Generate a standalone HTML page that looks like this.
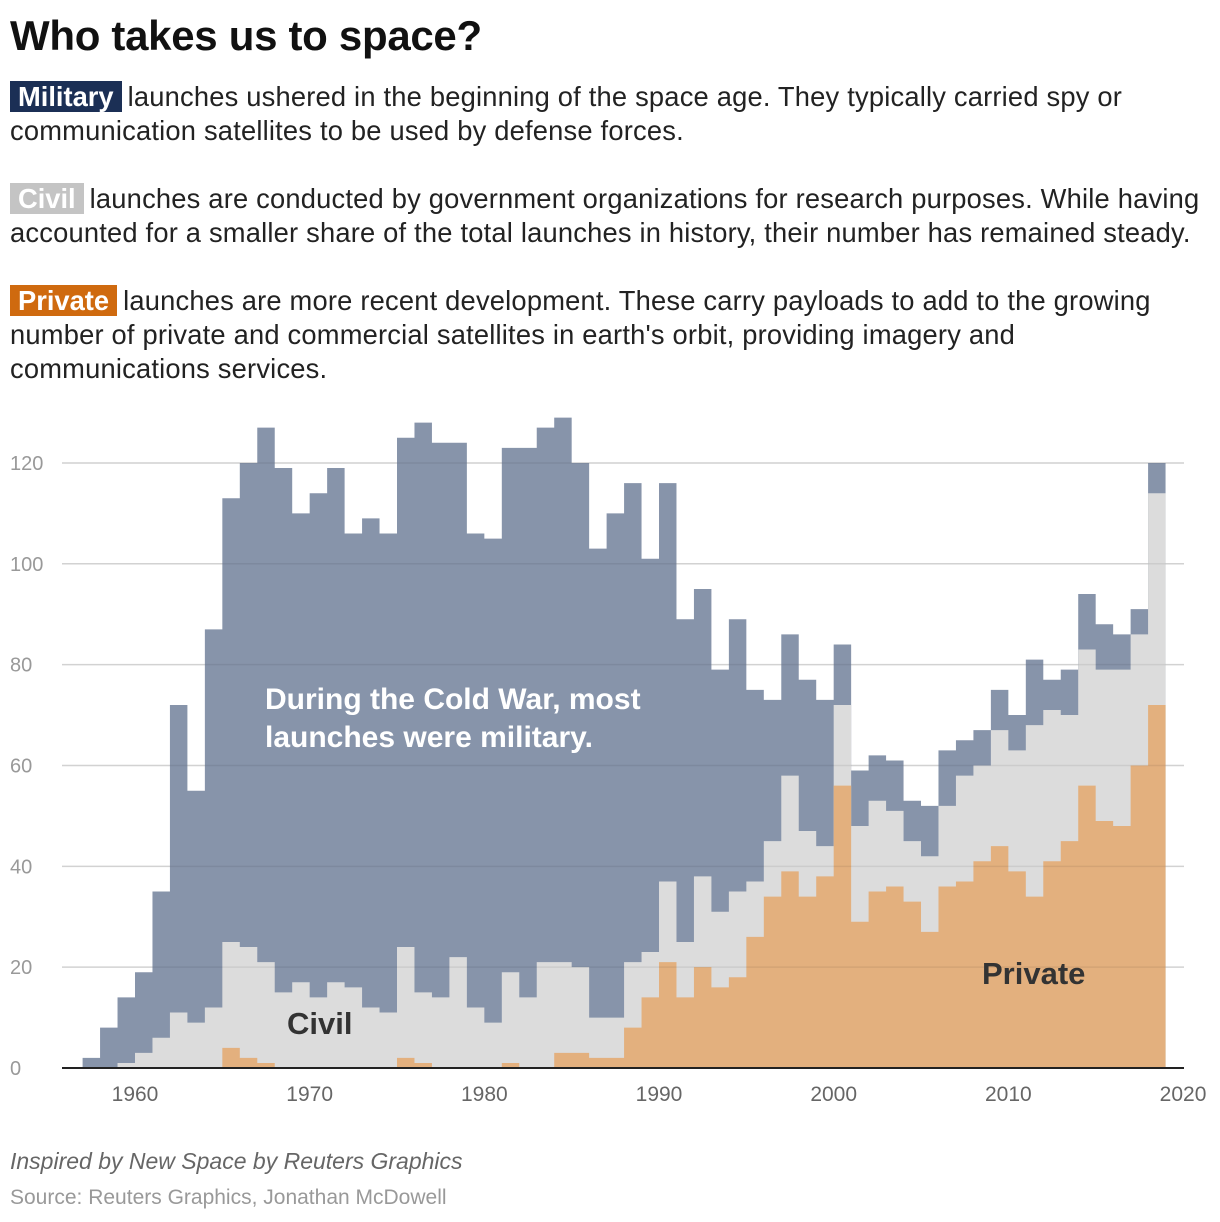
<!DOCTYPE html>
<html><head><meta charset="utf-8"><style>
body{margin:0;width:1220px;height:1222px;background:#fff;font-family:"Liberation Sans",sans-serif;position:relative;overflow:hidden}
h1{position:absolute;left:10px;top:12px;margin:0;font-size:42px;font-weight:bold;color:#111;letter-spacing:-0.3px}
.p{position:absolute;left:10px;font-size:27.3px;line-height:34px;color:#222;white-space:nowrap;letter-spacing:0.2px}
.b{color:#fff;font-weight:bold;padding:0 8px 0 8px;margin-right:6px;letter-spacing:0}
.f1{position:absolute;left:10px;top:1148px;font-size:23px;font-style:italic;color:#666}
.f2{position:absolute;left:10px;top:1186px;font-size:21px;color:#999}
svg{position:absolute;left:0;top:0}
</style></head><body>
<h1>Who takes us to space?</h1>
<div class="p" style="top:80px"><span class="b" style="background:#1b2f55">Military</span>launches ushered in the beginning of the space age. They typically carried spy or<br>communication satellites to be used by defense forces.</div>
<div class="p" style="top:182px"><span class="b" style="background:#c4c4c4">Civil</span>launches are conducted by government organizations for research purposes. While having<br>accounted for a smaller share of the total launches in history, their number has remained steady.</div>
<div class="p" style="top:284px"><span class="b" style="background:#cf6a0f">Private</span>launches are more recent development. These carry payloads to add to the growing<br>number of private and commercial satellites in earth's orbit, providing imagery and<br>communications services.</div>
<svg id="chart" width="1220" height="1222"></svg>
<div class="f1">Inspired by New Space by Reuters Graphics</div>
<div class="f2">Source: Reuters Graphics, Jonathan McDowell</div>
<script>
const startYear = 1957;
const totalLaunches = [2,8,14,19,35,72,55,87,113,120,127,119,110,114,119,106,109,106,125,128,124,124,106,105,123,123,127,129,120,103,110,116,101,116,89,95,79,89,75,73,86,77,73,84,59,62,61,53,52,63,65,67,75,70,81,77,79,94,88,86,91,120];
const civilPlusPrivate = [0,0,1,3,6,11,9,12,25,24,21,15,17,14,17,16,12,11,24,15,14,22,12,9,19,14,21,21,20,10,10,21,23,37,25,38,31,35,37,45,58,47,44,72,48,53,51,45,42,52,58,60,67,63,68,71,70,83,79,79,86,114];
const privateLaunches = [0,0,0,0,0,0,0,0,4,2,1,0,0,0,0,0,0,0,2,1,0,0,0,0,1,0,0,3,3,2,2,8,14,21,14,20,16,18,26,34,39,34,38,56,29,35,36,33,27,36,37,41,44,39,34,41,45,56,49,48,60,72];
const yTicks = [0,20,40,60,80,100,120];
const xTicks = [1960,1970,1980,1990,2000,2010,2020];

const svg = document.getElementById('chart');
const NS = 'http://www.w3.org/2000/svg';
const x = yr => 135 + (yr - 1960) * 17.467;
const y = v => 1068 - v * 5.042;
function mk(tag, attrs){const e=document.createElementNS(NS,tag);for(const k in attrs)e.setAttribute(k,attrs[k]);svg.appendChild(e);return e;}
function stepPath(vals){
  let d = 'M' + x(startYear) + ',' + y(0);
  vals.forEach((v,i)=>{const yr=startYear+i; d+=' L'+x(yr)+','+y(v)+' L'+x(yr+1)+','+y(v);});
  d += ' L' + x(startYear+vals.length) + ',' + y(0) + ' Z';
  return d;
}
yTicks.forEach(t=>{
  const g = mk('line',{x1:62,x2:1184,y1:y(t),y2:y(t),stroke:'#e2e2e2','stroke-width':1.5});
  
  
  const l = mk('text',{x:10,y:y(t)+7,'font-size':20,fill:'#999','font-family':'Liberation Sans, sans-serif'});
  l.textContent = t;
  
  
});
const m = mk('path',{d:stepPath(totalLaunches),fill:'#8794aa'});


const c = mk('path',{d:stepPath(civilPlusPrivate),fill:'#dcdcdc'});


const p = mk('path',{d:stepPath(privateLaunches),fill:'#e3b07e'});


yTicks.slice(1).forEach(t=>{
  const g = mk('line',{x1:62,x2:1184,y1:y(t),y2:y(t),stroke:'#000','stroke-opacity':0.07,'stroke-width':1.5});
  
  
});
const base = mk('line',{x1:62,x2:1184,y1:y(0),y2:y(0),stroke:'#222','stroke-width':2});


xTicks.forEach(t=>{
  const l = mk('text',{x:x(t),y:1101,'font-size':21,fill:'#666','text-anchor':'middle','font-family':'Liberation Sans, sans-serif'});
  l.textContent = t;
  
  
});
const a1 = mk('text',{x:265,y:709,'font-size':30,'font-weight':'bold',fill:'#fff','font-family':'Liberation Sans, sans-serif'});
a1.textContent = 'During the Cold War, most';


const a2 = mk('text',{x:265,y:747,'font-size':30,'font-weight':'bold',fill:'#fff','font-family':'Liberation Sans, sans-serif'});
a2.textContent = 'launches were military.';


const cl = mk('text',{x:287,y:1034,'font-size':31,'font-weight':'bold',fill:'#333','font-family':'Liberation Sans, sans-serif'});
cl.textContent = 'Civil';


const pl = mk('text',{x:982,y:984,'font-size':31,'font-weight':'bold',fill:'#333','font-family':'Liberation Sans, sans-serif'});
pl.textContent = 'Private';


</script>
</body></html>
